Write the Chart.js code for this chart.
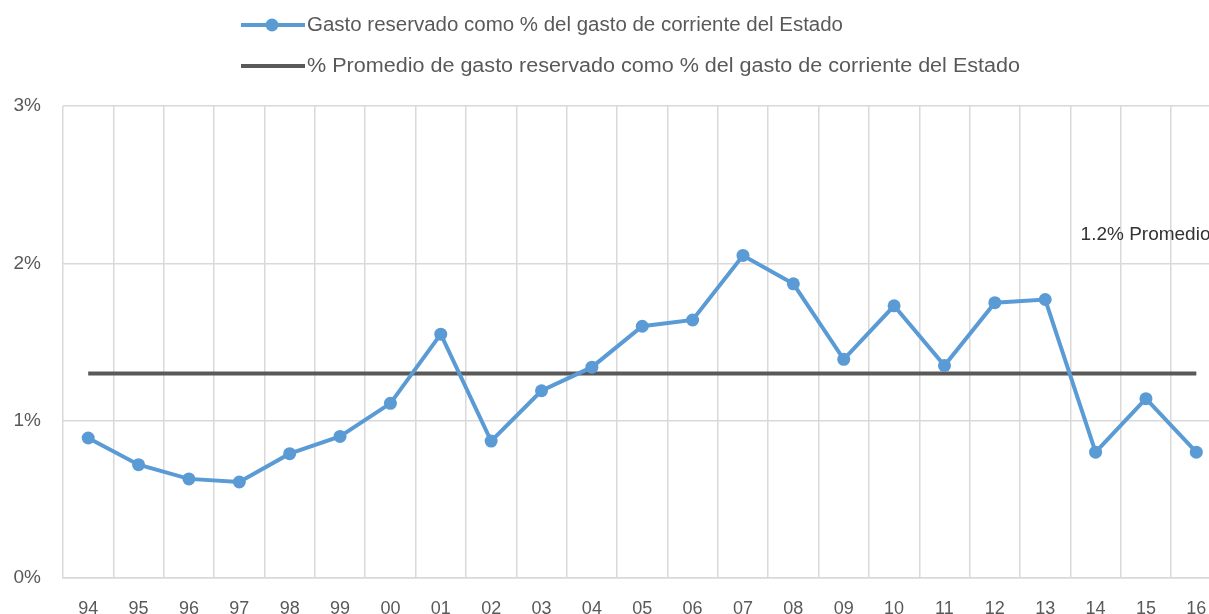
<!DOCTYPE html>
<html>
<head>
<meta charset="utf-8">
<script src="https://cdn.jsdelivr.net/npm/chart.js@4"></script>
<style>
  html, body { margin: 0; padding: 0; background: #fff; overflow: hidden; }
  #wrap { position: absolute; left: 0; top: 0; width: 1228px; height: 614px; }
</style>
</head>
<body>
<div id="wrap"><canvas id="chartCanvas"></canvas></div>
<script>
var ctx = document.getElementById("chartCanvas").getContext("2d");

// years (two digits)
var years = ["94", "95", "96", "97", "98", "99", "00", "01", "02", "03", "04", "05",
  "06", "07", "08", "09", "10", "11", "12", "13", "14", "15", "16"];

// gasto reservado como % del gasto corriente
var gastoPct = [0.89, 0.72, 0.63, 0.61, 0.79, 0.90, 1.11, 1.55, 0.87, 1.19, 1.34, 1.60,
  1.64, 2.05, 1.87, 1.39, 1.73, 1.35, 1.75, 1.77, 0.80, 1.14, 0.80];

// promedio line
var promedio = 1.3;
var promedioLabel = "1.2% Promedio";

var yTicks = [0, 1, 2, 3];

var FONT = "'Liberation Sans', 'DejaVu Sans', sans-serif";
var GREY_TEXT = "#595959";

var promedioData = [];
for (var i = 0; i < years.length; i++) {
  promedioData.push(promedio);
}

// legend drawn by hand, two stacked rows left aligned
var legendPlugin = {
  id: "stackLegend",
  afterDraw: function (chart) {
    var c = chart.ctx;
    var rows = [
      { ds: chart.data.datasets[0], y: 25, dot: true, w: 536 },
      { ds: chart.data.datasets[1], y: 66, dot: false, w: 713 },
    ];
    c.save();
    for (var i = 0; i < rows.length; i++) {
      var r = rows[i];
      c.strokeStyle = r.ds.borderColor;
      c.lineWidth = 4;
      c.beginPath();
      c.moveTo(241, r.y);
      c.lineTo(305, r.y);
      c.stroke();
      if (r.dot) {
        c.fillStyle = r.ds.borderColor;
        c.beginPath();
        c.arc(272, r.y, 6.5, 0, Math.PI * 2);
        c.fill();
      }
      c.fillStyle = GREY_TEXT;
      c.font = "20px " + FONT;
      c.textBaseline = "middle";
      c.textAlign = "left";
      // squeeze/stretch to the width seen in the original
      var tw = c.measureText(r.ds.label).width;
      c.save();
      c.translate(307, r.y);
      c.scale(r.w / tw, 1);
      c.fillText(r.ds.label, 0, 0);
      c.restore();
    }
    c.restore();
  },
};

// label of the average line
var promedioTextPlugin = {
  id: "promedioText",
  afterDatasetsDraw: function (chart) {
    var c = chart.ctx;
    var x = chart.scales.x.getPixelForValue(20) - 15;
    var y = chart.scales.y.getPixelForValue(2.18);
    c.save();
    c.fillStyle = "#333333";
    c.font = "19px " + FONT;
    c.textBaseline = "middle";
    c.textAlign = "left";
    c.fillText(promedioLabel, x, y);
    c.restore();
  },
};

var chart = new Chart(ctx, {
  type: "line",
  data: {
    labels: years,
    datasets: [
      {
        label: "Gasto reservado como % del gasto de corriente del Estado",
        data: gastoPct,
        borderColor: "#5B9BD5",
        backgroundColor: "#5B9BD5",
        borderWidth: 4,
        pointRadius: 6.5,
        pointHoverRadius: 6.5,
        pointBorderWidth: 0,
        tension: 0,
      },
      {
        label: "% Promedio de gasto reservado como % del gasto de corriente del Estado",
        data: promedioData,
        borderColor: "#595959",
        backgroundColor: "#595959",
        borderWidth: 4,
        pointRadius: 0,
        tension: 0,
      },
    ],
  },
  options: {
    responsive: true,
    maintainAspectRatio: false,
    animation: false,
    layout: {
      padding: { top: 106, right: 6, bottom: 0, left: 0 },
    },
    scales: {
      x: {
        offset: true,
        grid: {
          offset: true,
          color: "#d9d9d9",
          lineWidth: 1.5,
          drawTicks: false,
        },
        border: { color: "#d9d9d9", width: 1.5 },
        ticks: {
          color: GREY_TEXT,
          font: { family: FONT, size: 18 },
          padding: 20,
          maxRotation: 0,
          autoSkip: false,
        },
        afterFit: function (scale) {
          scale.height = 36;
        },
      },
      y: {
        min: 0,
        max: 3,
        afterBuildTicks: function (scale) {
          scale.ticks = yTicks.map(function (v) { return { value: v }; });
        },
        grid: {
          color: "#d9d9d9",
          lineWidth: 1.5,
          drawTicks: false,
        },
        border: { display: false },
        ticks: {
          color: GREY_TEXT,
          font: { family: FONT, size: 19 },
          padding: 22,
          callback: function (v) { return v + "%"; },
        },
        afterFit: function (scale) {
          scale.width = 63;
        },
      },
    },
    plugins: {
      legend: { display: false },
      tooltip: { enabled: false },
    },
  },
  plugins: [legendPlugin, promedioTextPlugin],
});
</script>
</body>
</html>
